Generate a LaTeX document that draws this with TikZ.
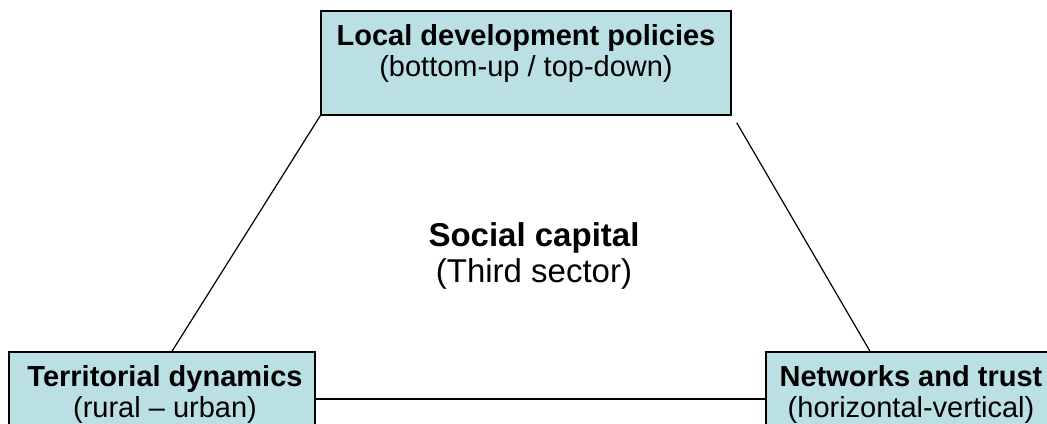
\documentclass[tikz,border=0pt]{standalone}
\usepackage{fontspec}
\setmainfont{Liberation Sans}
\definecolor{boxfill}{RGB}{187,224,227}
\tikzset{
  box/.style={draw=black, fill=boxfill, line width=1.1pt, inner sep=0pt, minimum height=78pt},
  conn/.style={draw=black, line width=0.9pt},
  boxtxt/.style={anchor=base, inner sep=0pt, font=\fontsize{21.75pt}{26pt}\selectfont},
  midtxt/.style={anchor=base, inner sep=0pt, font=\fontsize{24.75pt}{30pt}\selectfont}
}
\begin{document}
\begin{tikzpicture}[x=0.75pt,y=-0.75pt]
\useasboundingbox (0,0) rectangle (1047,424);
\clip (0,0) rectangle (1047,424);
\node[box, minimum width=307.5pt] (top) at (526,63) {};
\node[box, minimum width=229.5pt] (bl) at (162,404) {};
\node[box, minimum width=217.5pt] (br) at (911,404) {};
\draw[conn] (top.south west) -- ([xshift=7.5pt]bl.north);
\draw[conn] ([xshift=3.75pt,yshift=-5.25pt]top.south east) -- ([xshift=-30.75pt]br.north);
\draw[conn] ([yshift=3.75pt]bl.east) -- ([yshift=3.75pt]br.west);
\node[boxtxt] (t1) at (526,46) {\bfseries Local development policies};
\node[boxtxt] (t2) at (526,77) {(bottom-up / top-down)};
\node[boxtxt] (l1) at (165,386) {\bfseries Territorial dynamics};
\node[boxtxt] (l2) at (165,417) {(rural – urban)};
\node[boxtxt] (r1) at (911,386) {\bfseries Networks and trust};
\node[boxtxt] (r2) at (911,417) {(horizontal-vertical)};
\node[midtxt] (c1) at (534,247) {\bfseries Social capital};
\node[midtxt] (c2) at (534,282) {(Third sector)};
\end{tikzpicture}
\end{document}
